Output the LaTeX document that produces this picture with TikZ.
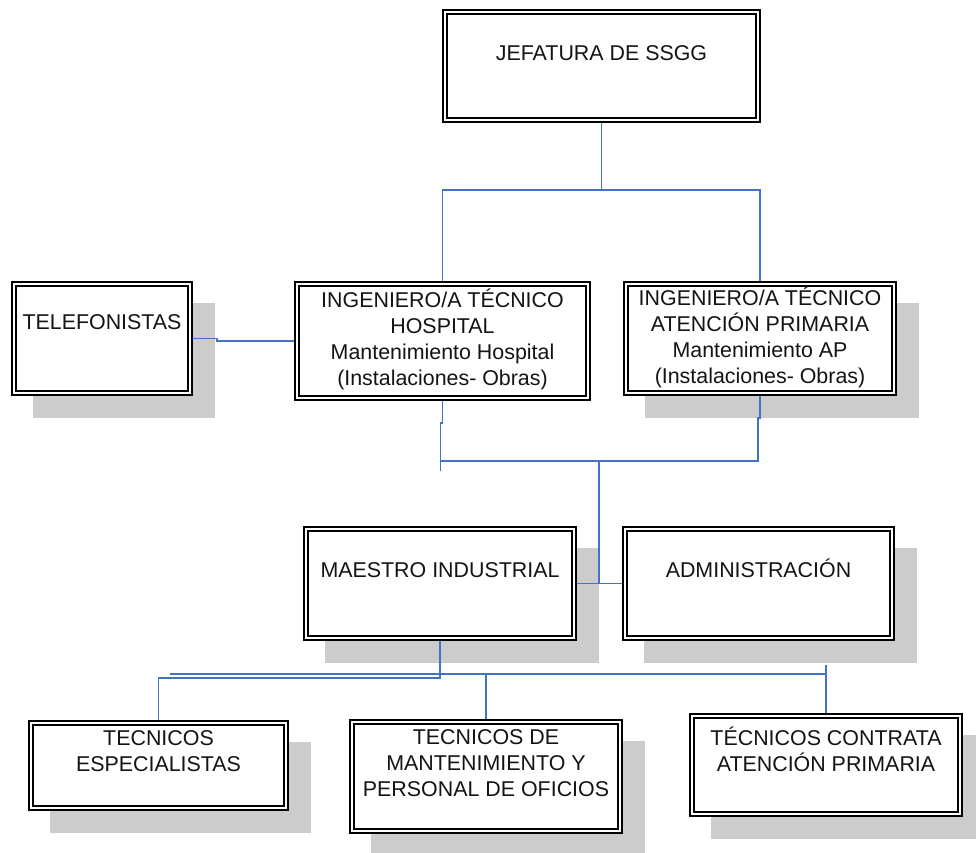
\documentclass[tikz,border=0pt]{standalone}
\usepackage{fontspec}
\setmainfont{Liberation Sans}
\usetikzlibrary{positioning,backgrounds}
\definecolor{linkblue}{RGB}{68,114,196}
\definecolor{shadowgray}{RGB}{204,204,204}

\begin{document}
\begin{tikzpicture}[x=1pt,y=-1pt,
  box/.style 2 args={draw=black,line width=1.6pt,double=white,double distance=2.6pt,
    fill=white,inner sep=0pt,outer sep=2.9pt,
    minimum width=#1pt-5.8pt,minimum height=#2pt-5.8pt},
  lbl/.style={font=\fontsize{21.4}{26}\selectfont,text=black!92,align=center,
    inner sep=0pt,execute at begin node=\vphantom{É}},
  link/.style={draw=linkblue,line width=1.6pt}]
\useasboundingbox (0,0) rectangle (976,852);

\node[box={319}{114}] (jef)  at (601.5,66)   {};
\node[box={182}{115}] (tel)  at (102,338.5)  {};
\node[box={297}{120}] (hos)  at (442.5,341)  {};
\node[box={274}{115}] (ap)   at (760,338.5)  {};
\node[box={274}{115}] (mae)  at (440,583.5)  {};
\node[box={273}{115}] (adm)  at (758.5,583.5) {};
\node[box={261}{91}]  (tesp) at (158.5,765.5) {};
\node[box={274}{115}] (tman) at (486,776.5)  {};
\node[box={274}{104}] (tcon) at (826,765)    {};

\begin{scope}[on background layer]
\foreach \b in {tel,ap,mae,adm,tesp,tman,tcon}
  \fill[shadowgray] ([shift={(22,22)}]\b.north west) rectangle ([shift={(22,22)}]\b.south east);
\end{scope}

\node[lbl,below=33pt of jef.north]  (jeft)  {JEFATURA DE SSGG};
\node[lbl,below=30pt of tel.north]  (telt)  {TELEFONISTAS};
\node[lbl,below=8pt of hos.north]   (host)  {INGENIERO/A TÉCNICO\\HOSPITAL\\Mantenimiento Hospital\\(Instalaciones- Obras)};
\node[lbl,below=6pt of ap.north]    (apt)   {INGENIERO/A TÉCNICO\\ATENCIÓN PRIMARIA\\Mantenimiento AP\\(Instalaciones- Obras)};
\node[lbl,below=33pt of mae.north]  (maet)  {MAESTRO INDUSTRIAL};
\node[lbl,below=33pt of adm.north]  (admt)  {ADMINISTRACIÓN};
\node[lbl,below=10pt of tesp.north] (tespt) {TECNICOS\\ESPECIALISTAS};
\node[lbl,below=10pt of tman.north] (tmant) {TECNICOS DE\\MANTENIMIENTO Y\\PERSONAL DE OFICIOS};
\node[lbl,below=14pt of tcon.north] (tcont) {TÉCNICOS CONTRATA\\ATENCIÓN PRIMARIA};

\path
  (440.5,461) coordinate(hbus)
  (599,461) coordinate(mbus)
  (170,674) coordinate(lbus)
  (826,674) coordinate(rbus)
  (826,665) coordinate(admdrop);

\draw[link] (jef.south) -- ++(0,67) coordinate(jbus);
\draw[link] (hos.north) |- (jbus) -| (ap.north);
\draw[link] (tel.east) -- ++(24,0) |- (hos.west);

\draw[link] (hos.south) -- ++(0,22) -- ++(-2,0) -- ++(0,48);
\draw[link] (ap.south) -- ++(0,22) -- ++(-2,0) |- (hbus);
\draw[link] (mbus) -- (mbus |- mae.east);
\draw[link] (mae.east) -- (adm.west);

\draw[link] (mae.south) -- ++(0,37) -| (tesp.north);
\draw[link] (lbus) -- (rbus);
\draw[link] (admdrop) -- (tcon.north);
\draw[link] (tman.north |- lbus) -- (tman.north);
\end{tikzpicture}
\end{document}
